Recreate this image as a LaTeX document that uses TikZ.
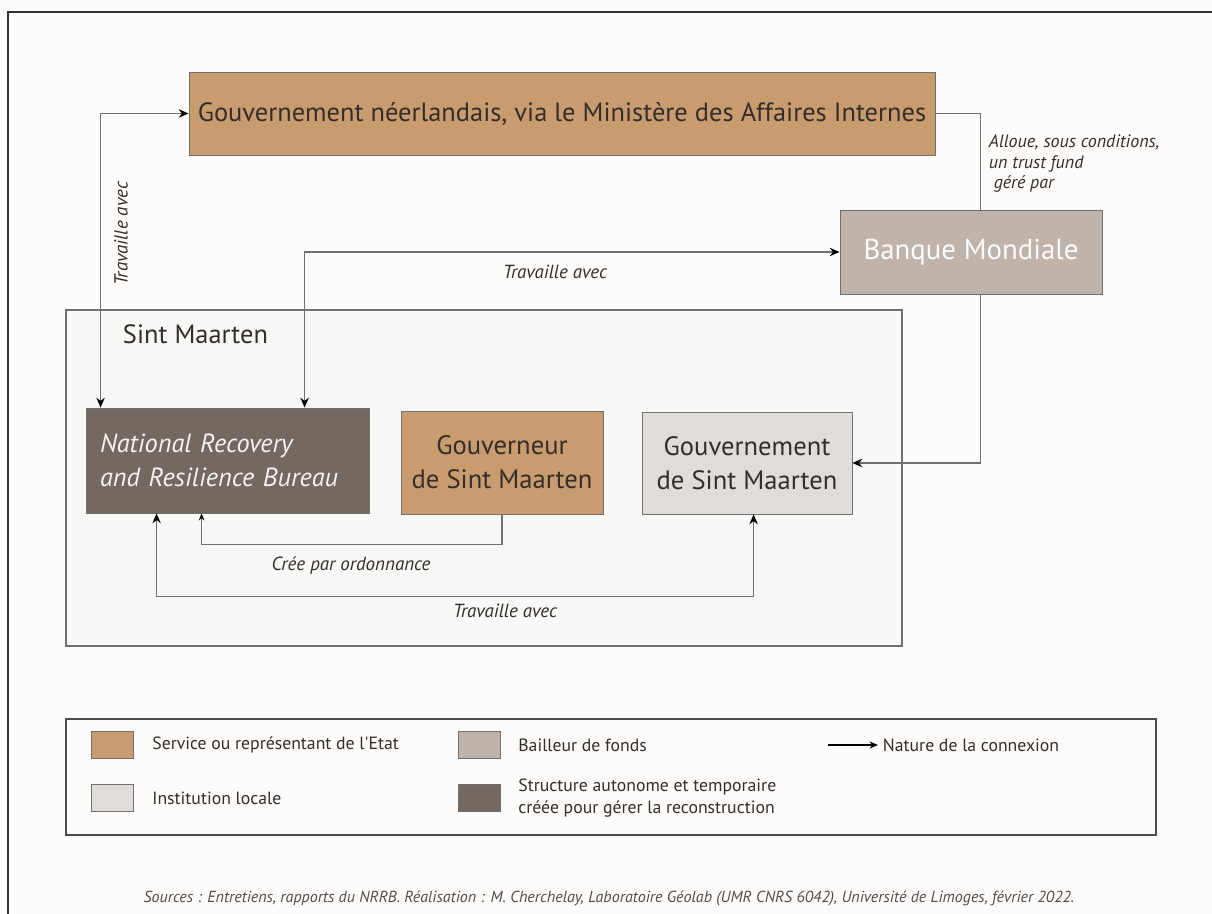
\documentclass[tikz,border=0pt]{standalone}
\usepackage{fontspec}
\setmainfont{PT Sans}
\usetikzlibrary{arrows.meta}
\newlength\px
\setlength\px{0.025cm}
\definecolor{etat}{RGB}{201,156,112}
\definecolor{bailleur}{RGB}{192,180,170}
\definecolor{locale}{RGB}{224,220,217}
\definecolor{autonome}{RGB}{115,105,97}
\definecolor{ink}{RGB}{52,46,42}
\definecolor{wire}{RGB}{112,112,112}
\definecolor{paper}{RGB}{253,252,250}
\definecolor{zone}{RGB}{248,248,247}
\tikzset{
  box/.style={draw=wire, line width=0.6pt, inner sep=0pt, align=center, text=ink, font=\fontsize{18.8}{23}\selectfont},
  link/.style={wire, line width=0.9pt},
  tip/.tip={Stealth[length=7pt,width=6pt,black]},
  smalltip/.tip={Stealth[length=5pt,width=4pt,black]},
  lab/.style={text=ink, font=\fontsize{13.5}{15}\selectfont\itshape},
  leg/.style={text=ink, font=\fontsize{12.6}{16}\selectfont, anchor=west, align=left},
  swatch/.style={draw=wire, line width=0.6pt, minimum width=42*\px, minimum height=27*\px, inner sep=0pt}
}
\begin{document}
\begin{tikzpicture}[x=0.025cm, y=-0.025cm]
  \useasboundingbox[fill=paper] (0,0) rectangle (1212,914);
  \draw[line width=1.2pt, black!80] (8,914) -- (8,12) -- (1212,12);
  \node[draw=wire, fill=zone, line width=0.8pt, minimum width=836*\px, minimum height=336*\px] (sm) at (484,478) {};
  \node[anchor=west, text=ink, font=\fontsize{18.8}{23}\selectfont] (smname) at (118,334) {Sint Maarten};
  \node[box, fill=etat, minimum width=746*\px, minimum height=83*\px] (gov) at (562,113.5) {Gouvernement néerlandais, via le Ministère des Affaires Internes};
  \node[box, fill=bailleur, text=white!95!bailleur, minimum width=262*\px, minimum height=84*\px, font=\fontsize{20.5}{24}\selectfont] (bm) at (971,252) {Banque Mondiale};
  \node[box, fill=autonome, text=white!92!autonome, align=left, text width=255*\px, minimum width=283*\px, minimum height=105*\px, font=\fontsize{18.7}{24}\selectfont\itshape] (nrrb) at (227.5,460.5) {National Recovery\\and Resilience Bureau\\[4pt]};
  \node[box, fill=etat, minimum width=202*\px, minimum height=103*\px, font=\fontsize{18.9}{24}\selectfont] (gvr) at (502,462.5) {Gouverneur\\de Sint Maarten};
  \node[box, fill=locale, minimum width=210*\px, minimum height=102*\px, font=\fontsize{18.9}{24}\selectfont] (sgov) at (747,463) {Gouvernement\\de Sint Maarten};
  \draw[link, tip-tip] (gov.west) -| ([shift={(15,0)}]nrrb.north west);
  \node[lab, rotate=90] (w1) at (121,234) {Travaille avec};
  \draw[link, tip-tip] (bm.west) -| ([shift={(219,0)}]nrrb.north west);
  \node[lab] (w2) at (555,272) {Travaille avec};
  \draw[link] (gov.east) -| ([shift={(141,0)}]bm.north west);
  \node[lab, anchor=north west, align=left, font=\fontsize{12.8}{14.5}\selectfont\itshape] (fund) at (984,130) {Alloue, sous conditions,\\un trust fund\\\ géré par};
  \draw[link, -tip] ([shift={(141,0)}]bm.south west) |- (sgov.east);
  \draw[link, -smalltip] (gvr.south) -- ++(0,30) -| ([shift={(116,0)}]nrrb.south west);
  \node[lab] (ordo) at (351,566) {Crée par ordonnance};
  \draw[link, tip-tip] ([shift={(71,0)}]nrrb.south west) -- ++(0,83) -| ([shift={(112,0)}]sgov.south west);
  \node[lab] (w3) at (505,611) {Travaille avec};
  \node[draw=black!70, line width=0.8pt, minimum width=1090*\px, minimum height=116*\px] (legend) at (611,777) {};
  \node[swatch, fill=etat] (s1) at (112,745) {};
  \node[leg] (t1) at ([shift={(14,0)}]s1.east) {Service ou représentant de l\textquotesingle Etat};
  \node[swatch, fill=locale] (s2) at (112,798) {};
  \node[leg] (t2) at ([shift={(14,0)}]s2.east) {Institution locale};
  \node[swatch, fill=bailleur] (s3) at (479,745) {};
  \node[leg] (t3) at ([shift={(13,0)}]s3.east) {Bailleur de fonds};
  \node[swatch, fill=autonome] (s4) at (479,798) {};
  \node[leg] (t4) at ([shift={(13,0)}]s4.east) {Structure autonome et temporaire\\créée pour gérer la reconstruction};
  \coordinate (a0) at (828,745);
  \node[leg] (t5) at (878,745) {Nature de la connexion};
  \draw[black, line width=0.9pt, -{Stealth[length=6pt,width=5pt]}] (a0) -- (t5.west);
  \node[lab, font=\fontsize{11.4}{13}\selectfont\itshape, text=ink!85] (src) at (609,898) {Sources : Entretiens, rapports du NRRB. Réalisation : M. Cherchelay, Laboratoire Géolab (UMR CNRS 6042), Université de Limoges, février 2022.};
\end{tikzpicture}
\end{document}
